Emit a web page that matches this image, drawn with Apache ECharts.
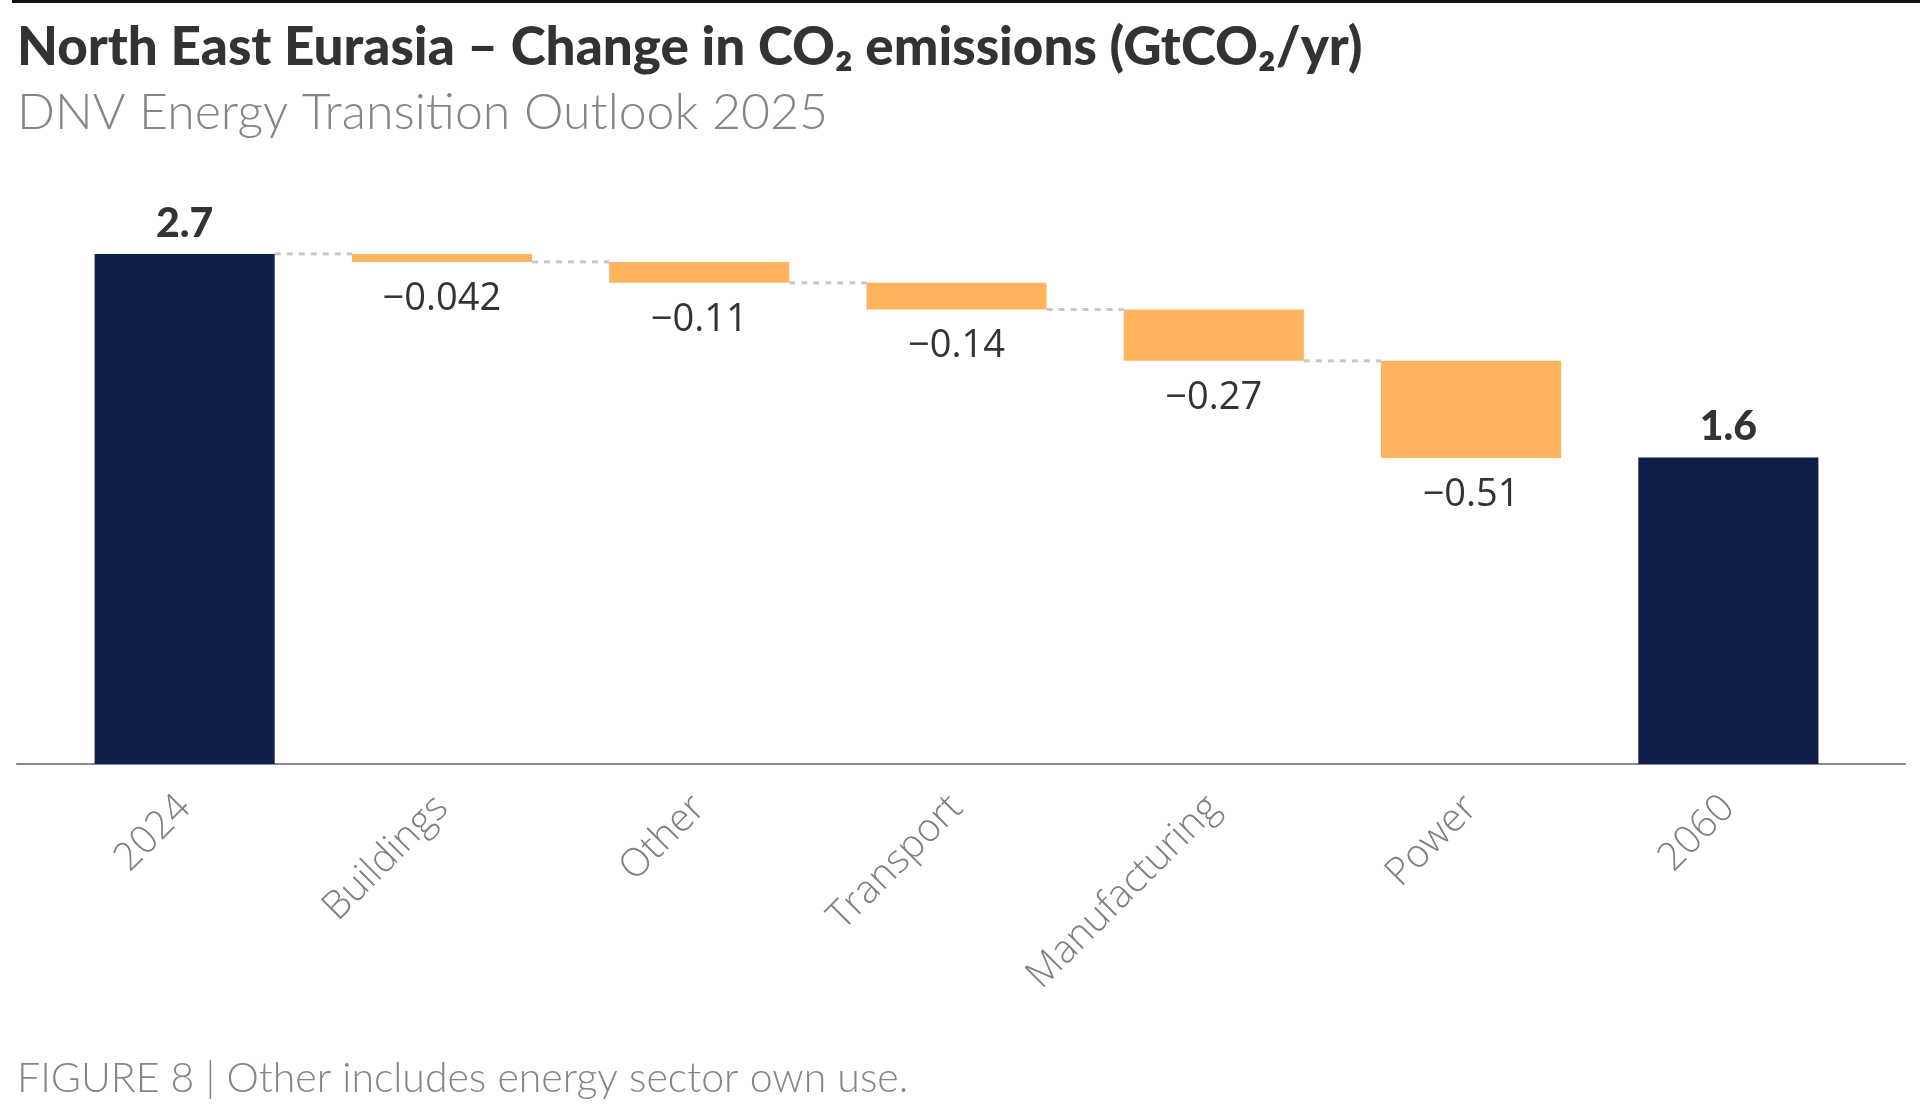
<!DOCTYPE html>
<html>
<head>
<meta charset="utf-8">
<style>
html,body{margin:0;padding:0;background:#fff;}
#chart{width:1920px;height:1106px;}
</style>
<script src="https://cdn.jsdelivr.net/npm/echarts@6/dist/echarts.min.js"></script>
</head>
<body>
<div id="chart"></div>
<script>
// ---- data ----
const categories = ['2024', 'Buildings', 'Other', 'Transport', 'Manufacturing', 'Power', '2060'];
const startValue = 2.68;
const changes = [-0.042, -0.11, -0.14, -0.27, -0.51];
const endValue = 1.61;
const titleText = 'North East Eurasia \u2013 Change in CO\u2082 emissions (GtCO\u2082/yr)';
const subtitleText = 'DNV Energy Transition Outlook 2025';
const footerText = 'FIGURE 8 | Other includes energy sector own use.';

// ---- build waterfall series ----
const baseData = [0];
const changeData = ['-'];
const totalData = [startValue];
const connectors = [];
let running = startValue;
connectors.push([0, running]);
changes.forEach((d, i) => {
  running = running + d;
  baseData.push(running);
  changeData.push(Math.abs(d));
  totalData.push('-');
  if (i < changes.length - 1) connectors.push([i + 1, running]);
});
baseData.push(0);
changeData.push('-');
totalData.push(endValue);

const fmt = v => Number(v).toPrecision(2);
const FONT = 'Lato, "Noto Sans", sans-serif';
const FONT2 = '"Open Sans", Lato, sans-serif';
const BAR_RATIO = 0.7;

const chart = echarts.init(document.getElementById('chart'));
chart.setOption({
  animation: false,
  backgroundColor: '#ffffff',
  title: [
    { text: titleText, left: 12, top: 16,
      textStyle: { fontFamily: FONT, fontSize: 53, fontWeight: 900, color: '#333333' } },
    { text: subtitleText, left: 12, top: 83,
      textStyle: { fontFamily: FONT, fontSize: 50, fontWeight: 300, color: '#858585' } },
    { text: footerText, left: 12, top: 1053,
      textStyle: { fontFamily: FONT, fontSize: 41, fontWeight: 300, color: '#858585' } }
  ],
  graphic: [
    { type: 'rect', left: 12, top: 0, shape: { width: 1908, height: 3 }, style: { fill: '#111111' } }
  ],
  grid: [
    { left: 56, right: 63, top: 193, bottom: 342 },
    { left: 17, right: 15, top: 193, bottom: 342 }
  ],
  xAxis: [
    { type: 'category', data: categories, gridIndex: 0,
      axisLine: { show: false }, axisTick: { show: false },
      axisLabel: { rotate: 45, margin: 38, fontFamily: FONT2, fontSize: 39, fontWeight: 300, color: '#808080', interval: 0 } },
    { type: 'value', gridIndex: 1, min: 0, max: 1,
      axisLine: { show: true, lineStyle: { color: '#8a8a8a', width: 2 } },
      axisTick: { show: false }, axisLabel: { show: false }, splitLine: { show: false } }
  ],
  yAxis: [
    { type: 'value', gridIndex: 0, min: 0, max: 3, show: false },
    { type: 'value', gridIndex: 1, min: 0, max: 3, show: false }
  ],
  series: [
    { type: 'bar', stack: 'w', data: baseData, barCategoryGap: '30%',
      itemStyle: { color: 'transparent' }, silent: true },
    { type: 'bar', stack: 'w', data: changeData,
      itemStyle: { color: '#fdb45c' },
      label: { show: true, position: 'bottom', distance: 18,
        formatter: p => '\u2212' + fmt(p.value),
        fontFamily: FONT2, fontSize: 38, fontWeight: 400, color: '#333333' } },
    { type: 'bar', stack: 'w', data: totalData,
      itemStyle: { color: '#0f1f4a' },
      label: { show: true, position: 'top', distance: 10,
        formatter: p => fmt(p.value),
        fontFamily: FONT, fontSize: 41, fontWeight: 900, color: '#333333' } },
    { type: 'custom', data: connectors, z: 1, silent: true,
      encode: { x: 0, y: 1 },
      renderItem: (params, api) => {
        const idx = api.value(0);
        const lvl = api.value(1);
        const p0 = api.coord([idx, lvl]);
        const p1 = api.coord([idx + 1, lvl]);
        const half = api.size([1, 0])[0] * BAR_RATIO / 2;
        return {
          type: 'line',
          shape: { x1: p0[0] + half, y1: p0[1], x2: p1[0] - half, y2: p1[1] },
          style: { stroke: '#c8c8c8', lineWidth: 3, lineDash: [6, 6] }
        };
      } }
  ]
});
</script>
</body>
</html>
